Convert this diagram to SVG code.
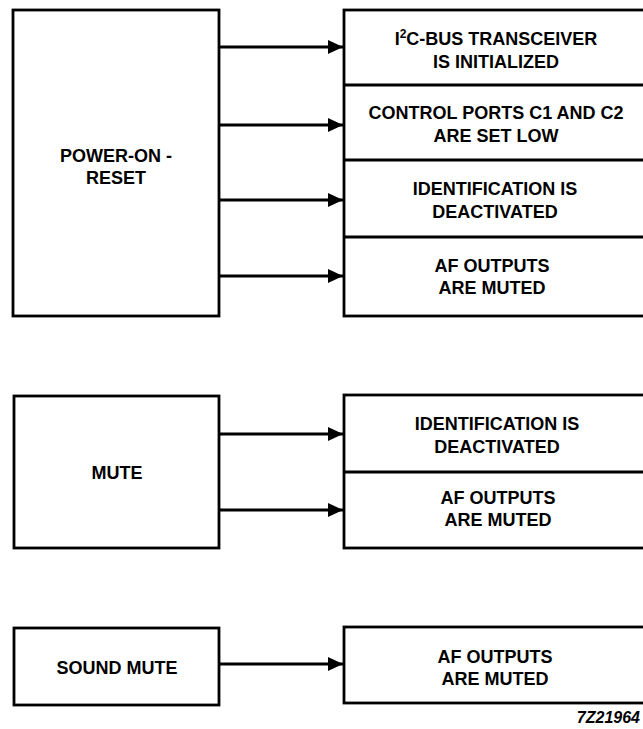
<svg xmlns="http://www.w3.org/2000/svg" width="643" height="729" viewBox="0 0 643 729">
<style>
.box{fill:#fff;stroke:#000;stroke-width:2.8}
.div{stroke:#000;stroke-width:2.8}
.t{font-family:"Liberation Sans",Arial,sans-serif;font-weight:bold;font-size:18px;text-anchor:middle;fill:#000}
.c{stroke:#000;stroke-width:2.8;fill:none}
.lbl{font-family:"Liberation Sans",Arial,sans-serif;font-weight:bold;font-style:italic;font-size:16px;text-anchor:end;fill:#000}
</style>
<defs>
<marker id="ah" markerUnits="userSpaceOnUse" markerWidth="16" markerHeight="14" refX="15" refY="7" orient="auto">
<path d="M0,0 L15,7 L0,14 Z" fill="#000"/>
</marker>
</defs>
<rect width="643" height="729" fill="#fff"/>
<g id="power-on-reset">
<rect class="box" x="13" y="10" width="206" height="306"/>
<text class="t" x="116" y="162">POWER-ON -</text>
<text class="t" x="116" y="184">RESET</text>
</g>
<g id="por-results">
<rect class="box" x="344" y="10" width="310" height="306"/>
<line class="div" x1="344" y1="85" x2="654" y2="85"/>
<line class="div" x1="344" y1="160" x2="654" y2="160"/>
<line class="div" x1="344" y1="237" x2="654" y2="237"/>
<text class="t" x="496" y="45">I<tspan font-size="12" dy="-7">2</tspan><tspan dy="7">C-BUS TRANSCEIVER</tspan></text>
<text class="t" x="496" y="68">IS INITIALIZED</text>
<text class="t" x="496" y="119">CONTROL PORTS C1 AND C2</text>
<text class="t" x="496" y="142">ARE SET LOW</text>
<text class="t" x="495" y="195">IDENTIFICATION IS</text>
<text class="t" x="495" y="218">DEACTIVATED</text>
<text class="t" x="492" y="272">AF OUTPUTS</text>
<text class="t" x="492" y="294">ARE MUTED</text>
</g>
<g id="mute">
<rect class="box" x="14" y="396" width="205" height="152"/>
<text class="t" x="117" y="479">MUTE</text>
</g>
<g id="mute-results">
<rect class="box" x="344" y="395" width="310" height="153"/>
<line class="div" x1="344" y1="472" x2="654" y2="472"/>
<text class="t" x="497" y="430">IDENTIFICATION IS</text>
<text class="t" x="497" y="453">DEACTIVATED</text>
<text class="t" x="498" y="504">AF OUTPUTS</text>
<text class="t" x="498" y="526">ARE MUTED</text>
</g>
<g id="sound-mute">
<rect class="box" x="14" y="628" width="205" height="77"/>
<text class="t" x="117" y="674">SOUND MUTE</text>
</g>
<g id="sound-mute-results">
<rect class="box" x="344" y="627" width="310" height="76"/>
<text class="t" x="495" y="663">AF OUTPUTS</text>
<text class="t" x="495" y="685">ARE MUTED</text>
</g>
<g id="connectors">
<line class="c" x1="219" y1="47" x2="343" y2="47" marker-end="url(#ah)"/>
<line class="c" x1="219" y1="125" x2="343" y2="125" marker-end="url(#ah)"/>
<line class="c" x1="219" y1="200" x2="343" y2="200" marker-end="url(#ah)"/>
<line class="c" x1="219" y1="276" x2="343" y2="276" marker-end="url(#ah)"/>
<line class="c" x1="219" y1="434" x2="343" y2="434" marker-end="url(#ah)"/>
<line class="c" x1="219" y1="510" x2="343" y2="510" marker-end="url(#ah)"/>
<line class="c" x1="219" y1="664" x2="343" y2="664" marker-end="url(#ah)"/>
</g>
<text class="lbl" x="640" y="723">7Z21964</text>
</svg>
